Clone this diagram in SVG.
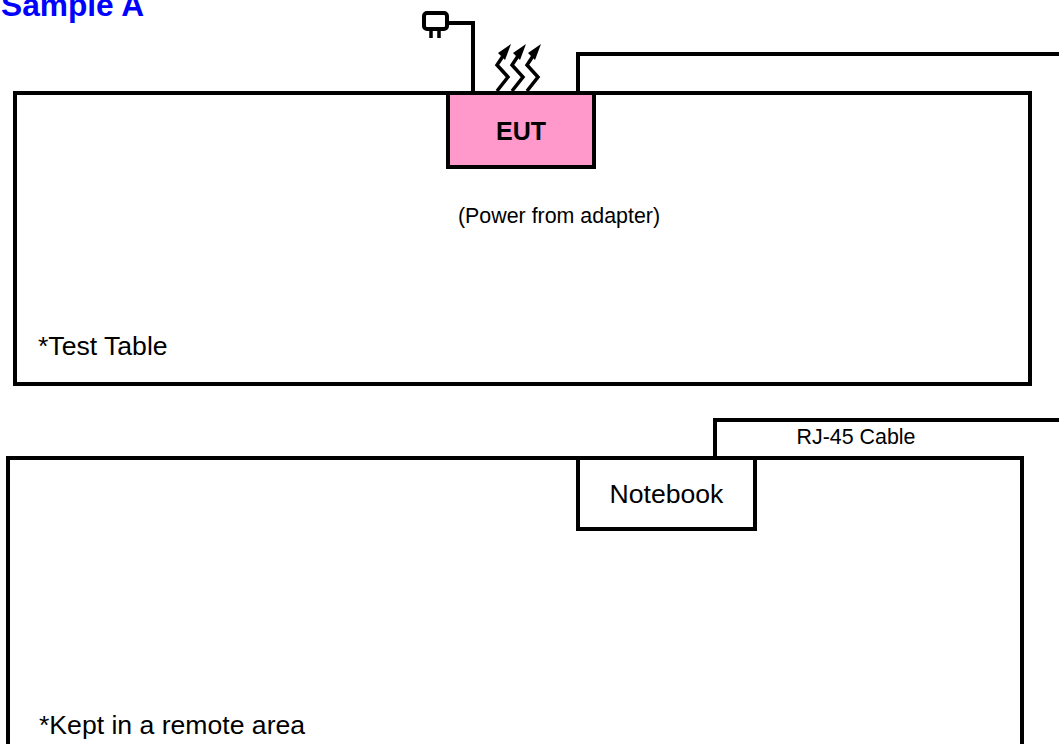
<svg xmlns="http://www.w3.org/2000/svg" width="1059" height="744" viewBox="0 0 1059 744">
<style>
.b{fill:#fff;stroke:#000;stroke-width:4}
.l{fill:none;stroke:#000;stroke-width:4}
.t{font-family:"Liberation Sans",Arial,sans-serif;fill:#000}
.h{fill:none;stroke:#000;stroke-width:3.5}
</style>
<defs>
<g id="wave"><path class="h" d="M-1 91 L10 77 L-1 65 L5 56"/><path d="M13 44 L0 53 L7 60Z" fill="#000"/></g>
</defs>
<rect width="1059" height="744" fill="#fff"/>
<text x="1" y="16" class="t" font-size="31.7" font-weight="700" style="fill:#0000ff">Sample A</text>
<g id="test-table"><rect class="b" x="15" y="93" width="1015" height="291"/><text class="t" x="38" y="355" font-size="26.6">*Test Table</text></g>
<g id="remote-area"><rect class="b" x="8" y="458" width="1014" height="300"/><text class="t" x="39" y="734" font-size="26.6">*Kept in a remote area</text></g>
<g id="connectors">
<path class="l" d="M473 93V23H449"/>
<path class="l" d="M578 93V54H1059"/>
<path class="l" d="M715 458V420H1059"/>
<use href="#wave" x="498"/><use href="#wave" x="513"/><use href="#wave" x="528"/>
</g>
<g id="plug"><rect x="424" y="13" width="23" height="16" rx="3" fill="#fff" stroke="#000" stroke-width="4"/><path d="M431 30V38M439 30V38" class="h"/></g>
<g id="eut"><rect x="448" y="93" width="146" height="74" fill="#ff99cc" stroke="#000" stroke-width="4"/><text class="t" x="521" y="140" font-size="25" font-weight="700" text-anchor="middle">EUT</text></g>
<text class="t" x="559" y="223" font-size="21.4" text-anchor="middle">(Power from adapter)</text>
<g id="notebook"><rect class="b" x="578" y="458" width="177" height="71"/><text class="t" x="666.5" y="503" font-size="26.6" text-anchor="middle">Notebook</text></g>
<text class="t" x="856" y="444" font-size="21.4" text-anchor="middle">RJ-45 Cable</text>
</svg>
